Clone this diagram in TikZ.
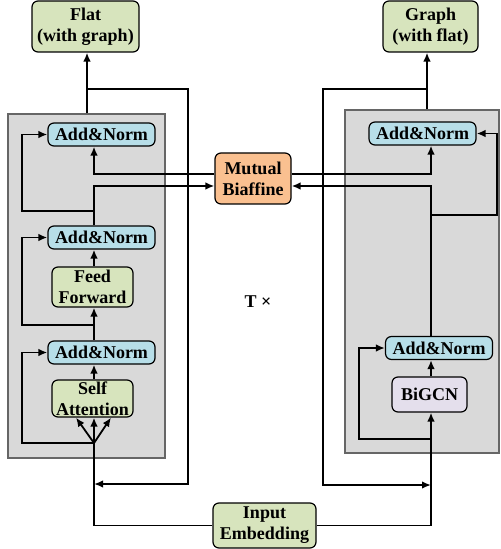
\documentclass[tikz,border=0pt]{standalone}
\usepackage{fontspec}
\setmainfont{Liberation Serif}
\usepackage{xcolor}
\usetikzlibrary{arrows.meta}

\definecolor{blockgreen}{HTML}{D7E4BD}
\definecolor{normblue}{HTML}{B7DEE8}
\definecolor{biaforange}{HTML}{FAC090}
\definecolor{gcnpurple}{HTML}{E4DFEC}
\definecolor{panelgray}{HTML}{D9D9D9}

\begin{document}
\begin{tikzpicture}[x=0.5pt,y=-0.5pt,
					>={Latex[length=4.5pt,width=3.8pt]},
					line width=0.9pt,
					font=\fontsize{9}{10.5}\selectfont\bfseries,
					base node/.style={draw,line width=0.6pt,rounded corners=3pt,align=center,inner sep=0pt},
					io node/.style={base node,fill=blockgreen,minimum height=25.5pt},
					norm node/.style={base node,fill=normblue,minimum width=53.5pt,minimum height=11.5pt},
					layer node/.style={base node,fill=blockgreen,minimum width=40.5pt},
					panel node/.style={draw=black!60,fill=panelgray,line width=0.6pt,inner sep=0pt}]

  \useasboundingbox (0,0) rectangle (500,549);

  % the two stacks
  \node[panel node,minimum width=78.5pt,minimum height=172pt] (lpanel) at (86.5,286) {};
  \node[panel node,minimum width=77pt,minimum height=171.5pt] (rpanel) at (422,281.5) {};

  \node[io node,minimum width=53.5pt] (flat) at (85.5,26.5) {Flat\\(with graph)};
  \node[io node,minimum width=47.5pt] (graph) at (430.5,26.5) {Graph\\(with flat)};
  \node[base node,fill=biaforange,minimum width=38pt,minimum height=25.5pt] (biaffine) at (253,178.5) {Mutual\\Biaffine};
  \node[io node,minimum width=51.5pt,minimum height=22.5pt] (embed) at (264.5,525.5) {Input\\Embedding};
  \node (times) at (258,302) {T ×};

  \node[norm node] (lnorm1) at (101.5,134.5) {Add\&Norm};
  \node[norm node] (lnorm2) at (101.5,237.5) {Add\&Norm};
  \node[layer node,minimum height=20pt] (ffn) at (92.5,287) {Feed\\Forward};
  \node[norm node] (lnorm3) at (101.5,352.5) {Add\&Norm};
  \node[layer node,minimum height=18.5pt] (selfatt) at (92.5,398.5) {Self\\Attention};

  \node[norm node] (rnorm1) at (422.5,133.5) {Add\&Norm};
  \node[norm node] (rnorm2) at (439,348) {Add\&Norm};
  \node[base node,fill=gcnpurple,minimum width=37.5pt,minimum height=17.5pt] (bigcn) at (429.5,394.5) {BiGCN};

  \coordinate (lx) at (94,0);
  \coordinate (rx) at (431,0);
  \coordinate (lskip) at (22,0);
  \coordinate (rskip1) at (497,0);
  \coordinate (rskip2) at (359,0);
  \coordinate (lres1) at (94,211);
  \coordinate (lres2) at (94,325);
  \coordinate (lsplit) at (94,443);
  \coordinate (rres1) at (431,215);
  \coordinate (rsplit) at (431,439);
  \coordinate (ltap) at (87,89);
  \coordinate (rtap) at (427,89);
  \coordinate (lturn) at (188,484);
  \coordinate (lret) at (94,484);
  \coordinate (rturn) at (323,485);
  \coordinate (rret) at (431,485);

  % outputs and loop back
  \draw[->] (lpanel.north -| ltap) -- (flat.south -| ltap);
  \draw[->] (rpanel.north -| rtap) -- (graph.south -| rtap);
  \draw[->] (ltap) -| (lturn) -- (lret);
  \draw[->] (rtap) -| (rturn) -- (rret);

  % mutual biaffine
  \draw[->] ([yshift=2.25pt]biaffine.west) -| (lx |- lnorm1.south);
  \draw[->] (lx |- lnorm2.north) |- ([yshift=-3.75pt]biaffine.west);
  \draw[->] (lres1) -| (lskip |- lnorm1.west) -- (lnorm1.west);
  \draw[->] ([yshift=2.25pt]biaffine.east) -| (rx |- rnorm1.south);
  \draw[->] (rx |- rnorm2.north) |- ([yshift=-3.75pt]biaffine.east);
  \draw[->] (rres1) -| (rskip1 |- rnorm1.east) -- (rnorm1.east);

  % flat side
  \draw[->] (lx |- lnorm3.north) -- (lx |- ffn.south);
  \draw[->] (lx |- ffn.north) -- (lx |- lnorm2.south);
  \draw[->] (lres2) -| (lskip |- lnorm2.west) -- (lnorm2.west);
  \draw[->] (lx |- selfatt.north) -- (lx |- lnorm3.south);
  \draw[->] (lsplit) -| (lskip |- lnorm3.west) -- (lnorm3.west);
  \foreach \dx in {-9pt,0pt,8.5pt}
    \draw[->] (lsplit) -- ([xshift=\dx]lsplit |- selfatt.south);
  \draw (embed.west) -| (lsplit);

  % graph side
  \draw[->] (embed.east) -| (rx |- bigcn.south);
  \draw[->] (rx |- bigcn.north) -- (rx |- rnorm2.south);
  \draw[->] (rsplit) -| (rskip2 |- rnorm2.west) -- (rnorm2.west);
\end{tikzpicture}
\end{document}
